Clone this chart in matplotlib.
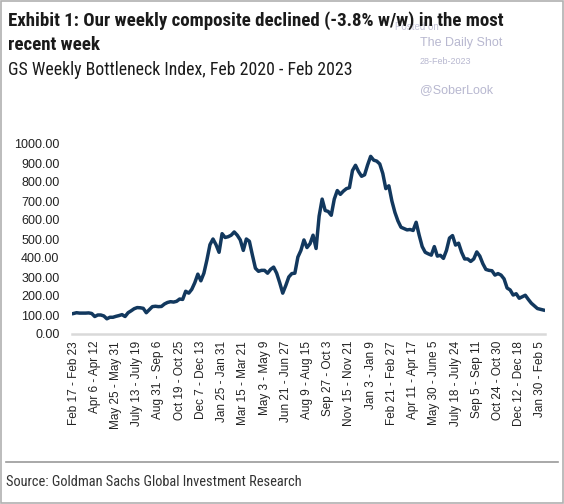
import numpy as np
import matplotlib
matplotlib.use('Agg')
import matplotlib.pyplot as plt
from matplotlib import font_manager
from matplotlib.patches import Rectangle
from matplotlib.lines import Line2D

# weekly composite, Feb 17-23 2020 .. Feb 6-12 2023
indice = [
    108, 112, 110, 110, 110, 111, 108, 92, 100, 100,
    95, 80, 88, 88, 93, 97, 102, 92, 112, 122,
    133, 139, 138, 135, 112, 128, 144, 146, 144, 145,
    158, 166, 170, 168, 172, 184, 182, 225, 215, 235,
    270, 315, 280, 320, 390, 470, 500, 470, 430, 528,
    508, 512, 520, 537, 520, 495, 440, 500, 488, 415,
    346, 330, 335, 335, 320, 340, 352, 320, 270, 215,
    255, 300, 318, 320, 405, 440, 495, 455, 475, 520,
    450, 620, 710, 650, 645, 625, 710, 755, 735, 752,
    765, 770, 860, 888, 855, 830, 838, 890, 935, 915,
    910, 895, 845, 765, 780, 700, 640, 595, 562, 555,
    548, 550, 545, 588, 520, 460, 430, 422, 415, 460,
    410, 414, 398, 440, 505, 518, 468, 478, 430, 395,
    395, 382, 395, 432, 410, 370, 340, 335, 333, 310,
    318, 310, 290, 242, 232, 205, 212, 188, 196, 204,
    182, 162, 148, 134, 130, 126,
]

rotulos = [
    'Feb 17 - Feb 23', 'Apr 6 - Apr 12', 'May 25 - May 31', 'July 13 - July 19',
    'Aug 31 - Sep 6', 'Oct 19 - Oct 25', 'Dec 7 - Dec 13', 'Jan 25 - Jan 31',
    'Mar 15 - Mar 21', 'May 3 - May 9', 'Jun 21 - Jun 27', 'Aug 9 - Aug 15',
    'Sep 27 - Oct 3', 'Nov 15 - Nov 21', 'Jan 3 - Jan 9', 'Feb 21 - Feb 27',
    'Apr 11 - Apr 17', 'May 30 - June 5', 'July 18 - July 24', 'Sep 5 - Sep 11',
    'Oct 24 - Oct 30', 'Dec 12 - Dec 18', 'Jan 30 - Feb 5',
]
passo = 7


def tem_fonte(nome):
    try:
        font_manager.findfont(nome, fallback_to_default=False)
        return True
    except ValueError:
        return False


narrow = [f for f in ['Liberation Sans Narrow', 'Roboto Condensed', 'Roboto']
          if tem_fonte(f)] + ['Liberation Sans', 'DejaVu Sans']
arial = ['Liberation Sans', 'DejaVu Sans']

fig = plt.figure(figsize=(5.64, 5.04), dpi=100)
ax = fig.add_axes([72/564, 1 - 334/504, (545 - 72)/564, (334 - 144)/504])

semanas = np.arange(len(indice))
ax.plot(semanas, indice, color='#12385e', lw=2.5, solid_joinstyle='round')

ax.set_xlim(-0.5, len(indice) - 0.5)
ax.set_ylim(0, 1000)
ax.set_yticks(np.arange(0, 1001, 100))
ax.set_yticklabels(['%.2f' % v for v in np.arange(0, 1001, 100)],
                   fontsize=9, family=arial, color='#222222')
ax.set_xticks(np.arange(0, len(rotulos) * passo, passo))
ax.set_xticklabels(rotulos, rotation=90, fontsize=8.5, family=arial, color='#222222')
ax.tick_params(axis='y', length=0, pad=9)
ax.tick_params(axis='x', length=0, pad=5)
for lado in ['top', 'right', 'left']:
    ax.spines[lado].set_visible(False)
ax.spines['bottom'].set_color('#d9d9d9')
ax.spines['bottom'].set_linewidth(1.8)

# titulos
fig.text(395/564, 1 - 27/504, 'Posted on', fontsize=7, family=arial,
         color='#c4c4d8', va='center', zorder=1)
t1 = fig.text(8/564, 1 - 21/504, 'Exhibit 1: Our weekly composite declined (-3.8% w/w) in the most',
              fontsize=14, family=narrow, weight='bold', color='#1a1a1a', va='center', zorder=5)
t2 = fig.text(8/564, 1 - 45/504, 'recent week', fontsize=14, family=narrow,
              weight='bold', color='#1a1a1a', va='center')
t3 = fig.text(8/564, 1 - 70/504, 'GS Weekly Bottleneck Index, Feb 2020 - Feb 2023',
              fontsize=13, family=narrow, color='#1a1a1a', va='center')

# marca d'agua
fig.text(420/564, 1 - 43/504, 'The Daily Shot', fontsize=9, family=arial,
         color='#b8b8d0', va='center', zorder=1)
fig.text(420/564, 1 - 61/504, '28-Feb-2023', fontsize=6.5, family=arial,
         color='#b8b8d0', va='center')
fig.text(420/564, 1 - 90/504, '@SoberLook', fontsize=9, family=arial,
         color='#b8b8d0', va='center')

# rodape
fig.add_artist(Line2D([6/564, 558/564], [1 - 462/504, 1 - 462/504],
                      color='#9a9a9a', lw=1.2, transform=fig.transFigure))
t4 = fig.text(6/564, 1 - 482/504, 'Source: Goldman Sachs Global Investment Research',
              fontsize=9.5, family=narrow, color='#333333', va='center')

# ajusta o tamanho das fontes estreitas para a largura da figura original
fig.canvas.draw()
r = fig.canvas.get_renderer()
escala = 497 / t1.get_window_extent(r).width
t1.set_fontsize(t1.get_fontsize() * escala)
t2.set_fontsize(t2.get_fontsize() * escala)
t3.set_fontsize(t3.get_fontsize() * 342 / t3.get_window_extent(r).width)
t4.set_fontsize(t4.get_fontsize() * 297 / t4.get_window_extent(r).width)

fig.add_artist(Rectangle((0.001, 0.001), 0.997, 0.997, transform=fig.transFigure,
                         fill=False, edgecolor='#b0b0b0', lw=1.2))

fig.savefig('out.png', dpi=100)
